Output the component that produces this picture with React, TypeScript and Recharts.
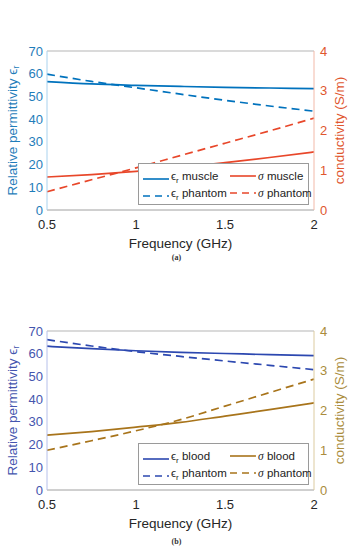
import { LineChart, Line, XAxis, YAxis, ReferenceLine, Legend } from 'recharts';

// frequency samples (GHz)
const freq = [0.5, 0.75, 1, 1.25, 1.5, 1.75, 2];
const xTicks = [0.5, 1, 1.5, 2];
const leftTicks = [0, 10, 20, 30, 40, 50, 60, 70];
const rightTicks = [0, 1, 2, 3, 4];

// (a) muscle
const epsMuscle = [56.5, 55.5, 54.9, 54.4, 54.0, 53.7, 53.4];
const epsPhantomA = [59.8, 56.6, 53.8, 51.0, 48.3, 45.8, 43.5];
const sigMuscle = [0.83, 0.89, 0.97, 1.07, 1.19, 1.32, 1.46];
const sigPhantomA = [0.46, 0.76, 1.06, 1.37, 1.68, 1.99, 2.31];

// (b) blood
const epsBlood = [63.3, 62.2, 61.3, 60.6, 60.1, 59.6, 59.2];
const epsPhantomB = [66.2, 63.4, 60.9, 58.8, 56.8, 54.9, 53.0];
const sigBlood = [1.38, 1.47, 1.58, 1.7, 1.86, 2.02, 2.19];
const sigPhantomB = [1.0, 1.24, 1.49, 1.77, 2.11, 2.45, 2.79];

const FONT = '"Liberation Sans", Arial, Helvetica, sans-serif';

interface PanelProps {
  data: { f: number; eps: number; epsP: number; sig: number; sigP: number }[];
  tissue: string;
  blue: string;
  blueText: string;
  blueAxis: string;
  warm: string;
  warmText: string;
  warmAxis: string;
}

function LegendBox({ tissue, blue, warm }: { tissue: string; blue: string; warm: string }) {
  const item = (left: number, top: number, color: string, dashed: boolean, label: React.ReactNode) => (
    <div style={{ position: 'absolute', left, top, display: 'flex', alignItems: 'center', whiteSpace: 'nowrap' }}>
      <svg width={26} height={4} style={{ marginRight: 2 }}>
        <line x1={0} y1={2} x2={26} y2={2} stroke={color} strokeWidth={1.6} strokeDasharray={dashed ? '7 5' : undefined} />
      </svg>
      <span>{label}</span>
    </div>
  );
  const eps = (s: string) => (
    <>
      ϵ<sub style={{ fontSize: 8, verticalAlign: -3 }}>r</sub> {s}
    </>
  );
  const sig = (s: string) => (
    <>
      <i style={{ fontFamily: '"Liberation Serif", serif' }}>σ</i> {s}
    </>
  );
  return (
    <div
      style={{
        position: 'relative',
        width: 171,
        height: 42,
        border: '1px solid #9a9a9a',
        background: '#fff',
        fontFamily: FONT,
        fontSize: 11.5,
        color: '#222',
        lineHeight: '12px',
        boxSizing: 'border-box',
      }}
    >
      {item(4, 6, blue, false, eps(tissue))}
      {item(91, 6, warm, false, sig(tissue))}
      {item(4, 23, blue, true, eps('phantom'))}
      {item(91, 23, warm, true, sig('phantom'))}
    </div>
  );
}

function Panel({ data, tissue, blue, blueText, blueAxis, warm, warmText, warmAxis }: PanelProps) {
  return (
    <LineChart width={353} height={252} data={data} margin={{ top: 9, right: 0, left: 0, bottom: 0 }}>
      <XAxis
        dataKey="f"
        type="number"
        domain={[0.5, 2]}
        ticks={xTicks}
        tickFormatter={(v) => String(v)}
        height={42}
        tickSize={0}
        tickMargin={10}
        stroke="#a0a0a0"
        tick={{ fill: '#262626', fontSize: 13, fontFamily: FONT }}
        label={{ value: 'Frequency (GHz)', position: 'insideBottom', offset: 4, fill: '#262626', fontSize: 13.5, fontFamily: FONT }}
      />
      <YAxis
        yAxisId="l"
        domain={[0, 70]}
        ticks={leftTicks}
        width={47}
        tickSize={0}
        tickMargin={4}
        axisLine={{ stroke: blueAxis }}
        tick={{ fill: blueText, fontSize: 13, fontFamily: FONT }}
        label={{
          content: ({ viewBox }: any) => {
            const cx = viewBox.x + 12;
            const cy = viewBox.y + viewBox.height / 2;
            return (
              <text
                x={cx}
                y={cy}
                transform={`rotate(-90 ${cx} ${cy})`}
                textAnchor="middle"
                dominantBaseline="central"
                fill={blueText}
                fontSize={13.5}
                fontFamily={FONT}
              >
                Relative permittivity ϵ<tspan fontSize={9.5} dy={3}>r</tspan>
              </text>
            );
          },
        }}
      />
      <YAxis
        yAxisId="r"
        orientation="right"
        domain={[0, 4]}
        ticks={rightTicks}
        width={39}
        tickSize={0}
        tickMargin={6}
        axisLine={{ stroke: warmAxis }}
        tick={{ fill: warmText, fontSize: 13, fontFamily: FONT }}
        label={{
          content: ({ viewBox }: any) => {
            const cx = viewBox.x + 25;
            const cy = viewBox.y + viewBox.height / 2;
            return (
              <text
                x={cx}
                y={cy}
                transform={`rotate(-90 ${cx} ${cy})`}
                textAnchor="middle"
                dominantBaseline="central"
                fill={warmText}
                fontSize={13.5}
                fontFamily={FONT}
              >
                conductivity (S/m)
              </text>
            );
          },
        }}
      />
      <ReferenceLine yAxisId="l" y={70} stroke="#b5b5b5" />
      <Legend
        verticalAlign="top"
        wrapperStyle={{ position: 'absolute', left: 138, top: 163, width: 172 }}
        content={() => <LegendBox tissue={tissue} blue={blue} warm={warm} />}
      />
      <Line yAxisId="l" type="monotone" dataKey="eps" stroke={blue} strokeWidth={1.7} dot={false} isAnimationActive={false} />
      <Line yAxisId="r" type="monotone" dataKey="sig" stroke={warm} strokeWidth={1.7} dot={false} isAnimationActive={false} />
      <Line yAxisId="l" type="monotone" dataKey="epsP" stroke={blue} strokeWidth={1.7} strokeDasharray="8 5" dot={false} isAnimationActive={false} />
      <Line yAxisId="r" type="monotone" dataKey="sigP" stroke={warm} strokeWidth={1.7} strokeDasharray="8 5" dot={false} isAnimationActive={false} />
    </LineChart>
  );
}

const dataA = freq.map((f, i) => ({ f, eps: epsMuscle[i], epsP: epsPhantomA[i], sig: sigMuscle[i], sigP: sigPhantomA[i] }));
const dataB = freq.map((f, i) => ({ f, eps: epsBlood[i], epsP: epsPhantomB[i], sig: sigBlood[i], sigP: sigPhantomB[i] }));

const captionStyle: React.CSSProperties = {
  position: 'absolute',
  left: 0,
  width: 353,
  textAlign: 'center',
  fontFamily: '"Liberation Serif", serif',
  fontSize: 8,
  fontWeight: 'bold',
  color: '#333',
};

export default function App() {
  return (
    <div style={{ position: 'relative', width: 353, height: 550, background: '#fff' }}>
      <style>{'body{margin:0}'}</style>
      <div style={{ position: 'absolute', left: 0, top: 0 }}>
        <Panel
          data={dataA}
          tissue="muscle"
          blue="#0072BD"
          blueText="#1F7DBA"
          blueAxis="#a9d2ee"
          warm="#E8472A"
          warmText="#E0562E"
          warmAxis="#f2b9a8"
        />
      </div>
      <div style={{ ...captionStyle, top: 253 }}>(a)</div>
      <div style={{ position: 'absolute', left: 0, top: 280 }}>
        <Panel
          data={dataB}
          tissue="blood"
          blue="#2C48B0"
          blueText="#4455AE"
          blueAxis="#b6c0ea"
          warm="#A8741B"
          warmText="#AA8C3C"
          warmAxis="#dccba0"
        />
      </div>
      <div style={{ ...captionStyle, top: 537 }}>(b)</div>
    </div>
  );
}
